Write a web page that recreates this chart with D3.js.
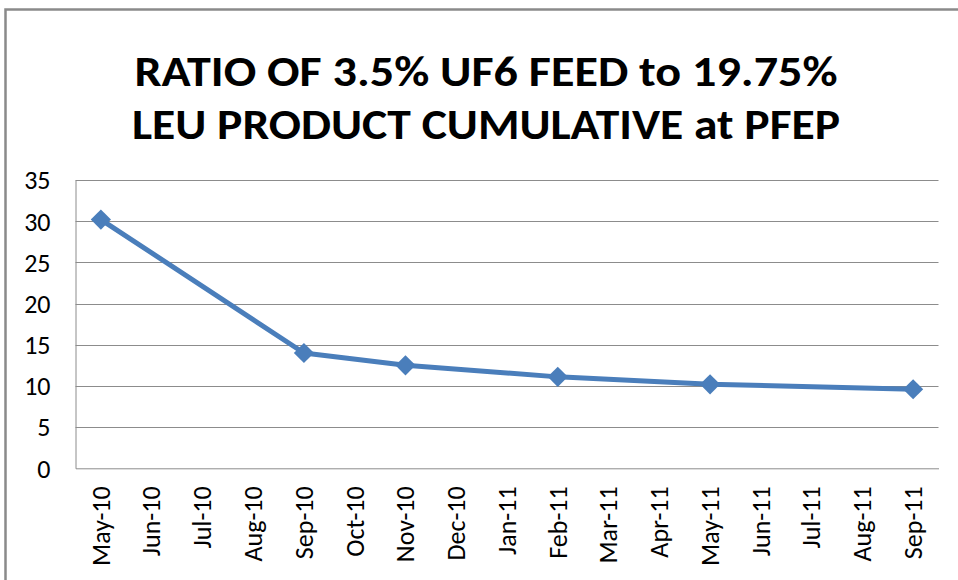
<!DOCTYPE html>
<html>
<head>
<meta charset="utf-8">
<script src="https://cdn.jsdelivr.net/npm/d3@7"></script>
<style>
  body { margin: 0; background: #fff; }
  svg { display: block; }
  text { font-family: Carlito, Lato, "Open Sans", sans-serif; fill: #000; }
</style>
</head>
<body>
<svg width="958" height="580"></svg>
<script>
// chart data
const titleLines = ["RATIO OF 3.5% UF6 FEED to 19.75%", "LEU PRODUCT CUMULATIVE at PFEP"];
const months = ["May-10", "Jun-10", "Jul-10", "Aug-10", "Sep-10", "Oct-10", "Nov-10", "Dec-10",
    "Jan-11", "Feb-11", "Mar-11", "Apr-11", "May-11", "Jun-11", "Jul-11", "Aug-11", "Sep-11"];
const pointMonths = ["May-10", "Sep-10", "Nov-10", "Feb-11", "May-11", "Sep-11"];
const ratios = [30.2, 14.0, 12.5, 11.1, 10.2, 9.6];
const yTicks = [0, 5, 10, 15, 20, 25, 30, 35];

const svg = d3.select("svg");
const lineColour = "#4a7ebb";

// outer chart frame (only top and left show inside the picture)
svg.append("rect")
    .attr("x", 5.5).attr("y", 9.5)
    .attr("width", 1200).attr("height", 1200)
    .attr("fill", "none")
    .attr("stroke", "#8a8a8a")
    .attr("stroke-width", 2.5);

const plot = {left: 75.5, right: 938.5, top: 180, bottom: 468.3};

const x = d3.scaleBand(months, [plot.left, plot.right]);
const y = d3.scaleLinear([0, 35], [plot.bottom, plot.top]);

// title
svg.selectAll("text.title").data(titleLines).enter()
    .append("text")
    .attr("class", "title")
    .attr("x", 486)
    .attr("y", (d, i) => 86 + i * 53)
    .attr("text-anchor", "middle")
    .attr("font-size", "42px")
    .attr("font-weight", "bold")
    .attr("textLength", (d, i) => i == 0 ? 703 : 708)
    .attr("lengthAdjust", "spacingAndGlyphs")
    .text(d => d);

// gridlines
svg.append("g")
    .selectAll("line").data(yTicks.filter(d => d > 0)).enter()
    .append("line")
    .attr("x1", plot.left).attr("x2", plot.right)
    .attr("y1", d => Math.round(y(d)) + 0.5).attr("y2", d => Math.round(y(d)) + 0.5)
    .attr("stroke", "#8c8c8c")
    .attr("stroke-width", 1);

// y axis
const yAxis = svg.append("g")
    .attr("transform", `translate(${plot.left},0)`)
    .call(d3.axisLeft(y).tickValues(yTicks).tickSize(0).tickPadding(25));
yAxis.select(".domain").attr("stroke", "#8c8c8c");
yAxis.selectAll("text")
    .attr("font-size", "26px")
    .attr("dy", "0.34em");

// x axis
const xAxis = svg.append("g")
    .attr("transform", `translate(0,${plot.bottom})`)
    .call(d3.axisBottom(x).tickSize(0).tickPadding(0));
xAxis.select(".domain").attr("stroke", "#8c8c8c");
xAxis.selectAll("text")
    .attr("font-size", "26px")
    .attr("text-anchor", "end")
    .attr("transform", "rotate(-90)")
    .attr("x", -18)
    .attr("y", 0)
    .attr("dy", "0.34em");

// series
const pts = pointMonths.map((m, i) => [x(m) + x.bandwidth() / 2, y(ratios[i])]);

svg.append("path")
    .attr("d", d3.line()(pts))
    .attr("fill", "none")
    .attr("stroke", lineColour)
    .attr("stroke-width", 5)
    .attr("stroke-linejoin", "round");

svg.selectAll("path.marker").data(pts).enter()
    .append("path")
    .attr("class", "marker")
    .attr("d", d3.symbol(d3.symbolDiamond2, 260))
    .attr("transform", d => `translate(${d[0]},${d[1]})`)
    .attr("fill", lineColour);
</script>
</body>
</html>
